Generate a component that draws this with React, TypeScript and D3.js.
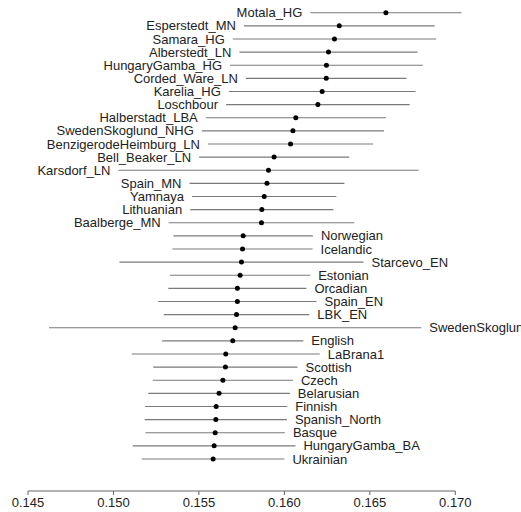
import React from "react";
import * as d3 from "d3";

// Population estimates with their standard errors, listed top to bottom.
const populations = [
  "Motala_HG", "Esperstedt_MN", "Samara_HG", "Alberstedt_LN", "HungaryGamba_HG",
  "Corded_Ware_LN", "Karelia_HG", "Loschbour", "Halberstadt_LBA", "SwedenSkoglund_NHG",
  "BenzigerodeHeimburg_LN", "Bell_Beaker_LN", "Karsdorf_LN", "Spain_MN", "Yamnaya",
  "Lithuanian", "Baalberge_MN",
  "Norwegian", "Icelandic", "Starcevo_EN", "Estonian", "Orcadian", "Spain_EN", "LBK_EN",
  "SwedenSkoglund", "English", "LaBrana1", "Scottish", "Czech", "Belarusian", "Finnish",
  "Spanish_North", "Basque", "HungaryGamba_BA", "Ukrainian",
];

const estimates = [
  0.16594, 0.16321, 0.16293, 0.16258, 0.16246,
  0.16245, 0.16221, 0.16196, 0.16067, 0.16050,
  0.16036, 0.15940, 0.15907, 0.15898, 0.15882,
  0.15868, 0.15866,
  0.15759, 0.15755, 0.15749, 0.15741, 0.15725, 0.15725, 0.15720,
  0.15712, 0.15698, 0.15657, 0.15655, 0.15640, 0.15618, 0.15601,
  0.15599, 0.15595, 0.15589, 0.15583,
];

const stdErrors = [
  0.00442, 0.00558, 0.00595, 0.00521, 0.00564,
  0.00470, 0.00546, 0.00537, 0.00527, 0.00533,
  0.00483, 0.00439, 0.00878, 0.00453, 0.00422,
  0.00419, 0.00543,
  0.00408, 0.00410, 0.00714, 0.00410, 0.00404, 0.00463, 0.00426,
  0.01089, 0.00413, 0.00550, 0.00422, 0.00410, 0.00414, 0.00416,
  0.00416, 0.00408, 0.00476, 0.00417,
];

// The first rows carry their names on the left, the rest on the right.
const leftLabelledRows = 17;

const xDomain = [0.145, 0.17];

const W = 521;
const H = 512;
const FONT = "'Liberation Sans', Arial, Helvetica, sans-serif";

export default function App() {
  const x = d3.scaleLinear().domain(xDomain).range([28, 455.3]);
  const y = d3.scalePoint<string>().domain(populations).range([12.7, 459]);
  const ticks = x.ticks(5);
  const fmt = d3.format(".3f");
  const axisY = 491;

  return (
    <svg
      width={W}
      height={H}
      style={{ position: "absolute", left: 0, top: 0, overflow: "hidden", background: "#fff" }}
      fontFamily={FONT}
    >
      <rect width={W} height={H} fill="#fff" />
      {populations.map((name, i) => {
        const cy = y(name) as number;
        const lo = x(estimates[i] - stdErrors[i]);
        const hi = x(estimates[i] + stdErrors[i]);
        const left = i < leftLabelledRows;
        return (
          <g key={name}>
            <line x1={lo} x2={hi} y1={cy} y2={cy} stroke="#7a7a7a" strokeWidth={1.1} />
            <circle cx={x(estimates[i])} cy={cy} r={2.5} fill="#000" />
            <text
              x={left ? lo - 8 : hi + 8}
              y={cy}
              dy="0.35em"
              fontSize={13}
              fill="#222"
              textAnchor={left ? "end" : "start"}
            >
              {name}
            </text>
          </g>
        );
      })}
      <line x1={x(xDomain[0])} x2={x(xDomain[1])} y1={axisY} y2={axisY} stroke="#666" strokeWidth={1} />
      {ticks.map((t) => (
        <g key={t} transform={`translate(${x(t)},0)`}>
          <line y1={axisY} y2={axisY + 4} stroke="#666" strokeWidth={1} />
          <text y={axisY + 11} dy="0.35em" fontSize={13} fill="#222" textAnchor="middle">
            {fmt(t)}
          </text>
        </g>
      ))}
    </svg>
  );
}
